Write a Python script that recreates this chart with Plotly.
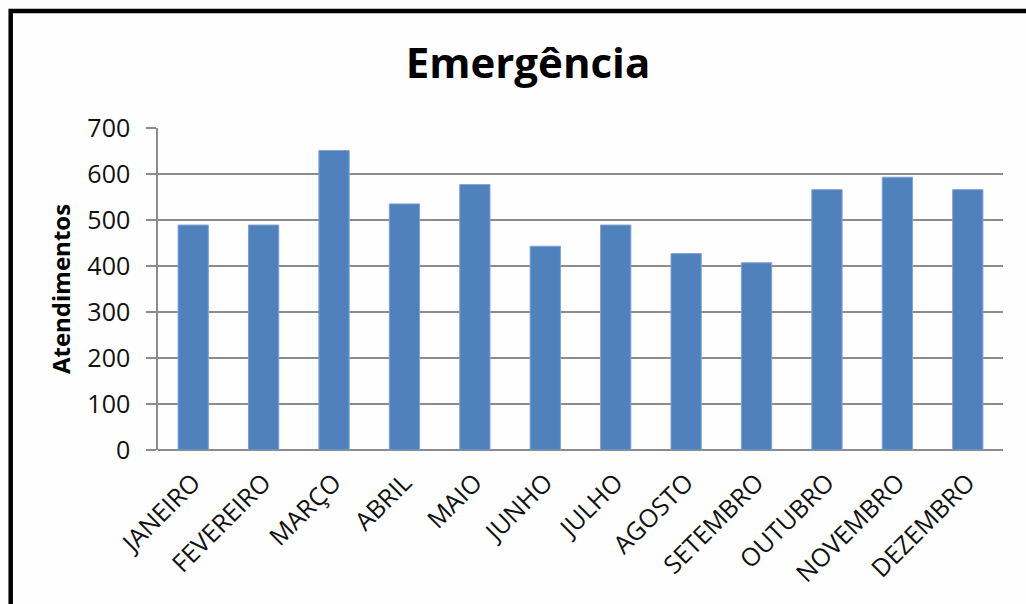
import plotly.graph_objects as go

months = ["JANEIRO", "FEVEREIRO", "MARÇO", "ABRIL", "MAIO", "JUNHO",
          "JULHO", "AGOSTO", "SETEMBRO", "OUTUBRO", "NOVEMBRO", "DEZEMBRO"]
atendimentos = [489, 489, 651, 535, 577, 443, 489, 427, 407, 566, 593, 566]
y_ticks = [0, 100, 200, 300, 400, 500, 600, 700]

W, H = 1026, 604
L, R, T, B = 158, 23, 128, 154
pw, ph = W - L - R, H - T - B

def px_to_paper_x(px):
    return (px - L) / pw

def px_to_paper_y(py):
    return (H - B - py) / ph

fig = go.Figure()
fig.add_trace(go.Bar(
    x=months, y=atendimentos,
    marker=dict(color="#4f81bd", line=dict(color="#7fa3d3", width=1)),
    width=0.43,
))

grid = "#8c8c8c"
fig.update_layout(
    width=W, height=H,
    margin=dict(l=L, r=R, t=T, b=B, autoexpand=False),
    paper_bgcolor="#fefefe", plot_bgcolor="#fefefe",
    showlegend=False,
    title=dict(text="<b>Emergência</b>", x=528 / W, xanchor="center",
               y=1 - 63 / H, yanchor="middle", yref="container",
               font=dict(family="Open Sans", size=42, color="#000000")),
    font=dict(family="Open Sans", color="#000000"),
    xaxis=dict(
        tickangle=-45, tickfont=dict(size=25, color="#111111"),
        showgrid=False, showline=False, zeroline=False, ticks="",
        ticklabelstandoff=12,
        automargin=False,
    ),
    yaxis=dict(
        range=[0, 700], tickvals=y_ticks, ticktext=[str(v) for v in y_ticks],
        showgrid=True, gridcolor=grid, gridwidth=1.5,
        showline=True, linecolor=grid, linewidth=1.5,
        zeroline=True, zerolinecolor=grid, zerolinewidth=1.5,
        ticks="outside", ticklen=10, tickcolor=grid, tickwidth=1.5,
        tickfont=dict(size=25, color="#111111"),
        ticklabelstandoff=11,
        title=dict(text="<b>Atendimentos</b>", font=dict(size=24, color="#000000"),
                   standoff=10),
        automargin=False,
    ),
    bargap=0.57,
    shapes=[dict(
        type="rect", xref="paper", yref="paper",
        x0=px_to_paper_x(10.7), x1=px_to_paper_x(1040),
        y0=px_to_paper_y(620), y1=px_to_paper_y(11),
        line=dict(color="#000000", width=4.5), fillcolor="rgba(0,0,0,0)",
        layer="above",
    )],
)

fig.write_html("out.html")
